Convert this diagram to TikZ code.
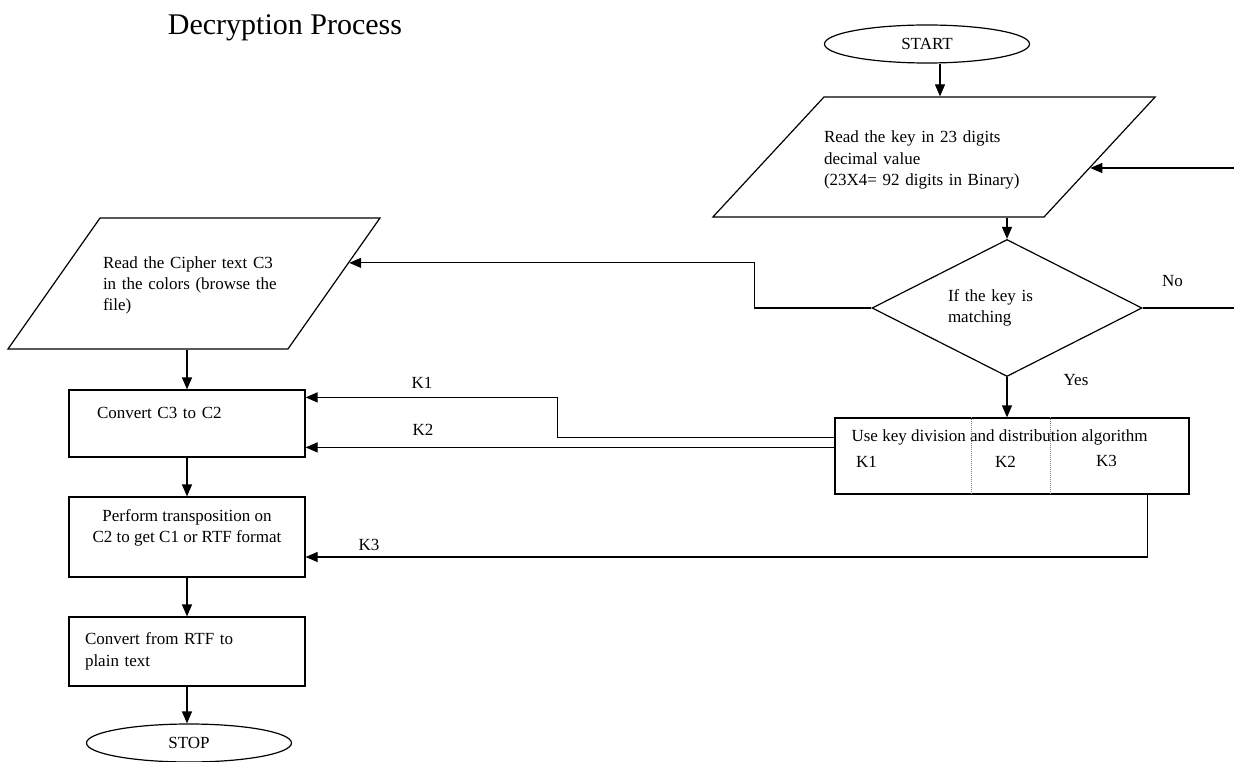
\documentclass[tikz,border=0pt]{standalone}
\usepackage{fontspec}
\setmainfont{Liberation Serif}
\usetikzlibrary{shapes.geometric,arrows.meta,calc}

\tikzset{
  txt/.style={font=\fontsize{17}{21.5}\selectfont, inner sep=0pt},
  titletxt/.style={font=\fontsize{30}{34}\selectfont, inner sep=0pt},
  line/.style={line width=1.2pt},
  arr/.style={line, -{Triangle[length=12pt,width=10pt]}},
  terminal/.style={txt, draw, line, ellipse, minimum width=205pt, minimum height=38pt},
  iobox/.style={txt, draw, line, trapezium, trapezium stretches body, align=left},
  decision/.style={txt, draw, line, diamond, aspect=1.97, minimum width=270pt, minimum height=137pt, text width=118pt, align=left},
  procbox/.style={txt, draw, line, rectangle, minimum width=236pt, align=left}
}

\begin{document}
\begin{tikzpicture}[x=1pt,y=-1pt]
\useasboundingbox (0,0) rectangle (1234,762);
\node[titletxt] (title) at (285,28) {Decryption Process};

% right column
\node[terminal] (start) at (927,44) {START};
\node[iobox, trapezium left angle=47.2, trapezium right angle=132.8,
      minimum width=442pt, text height=46pt, text depth=74pt, text width=220pt] (keyin) at (934,157)
      {Read the key in 23 digits\\ decimal value\\ (23X4= 92 digits in Binary)};
\node[decision] (match) at (1007,308) {If the key is\\ matching};
\node[procbox, minimum width=354pt, minimum height=76pt] (keydiv) at (1012,456) {};
\node[txt, anchor=west] (usekey) at ([xshift=17pt,yshift=-20pt]keydiv.north west) {Use key division and distribution algorithm};
\node[txt] (kone) at ([xshift=32pt,yshift=-44pt]keydiv.north west) {K1};
\node[txt] (ktwo) at ([xshift=171pt,yshift=-44pt]keydiv.north west) {K2};
\node[txt] (kthree) at ([xshift=272pt,yshift=-44pt]keydiv.north west) {K3};
\draw[densely dotted, gray, line width=1pt] ([xshift=137pt]keydiv.north west) -- ([xshift=137pt]keydiv.south west);
\draw[densely dotted, gray, line width=1pt] ([xshift=216pt]keydiv.north west) -- ([xshift=216pt]keydiv.south west);

% left column
\node[iobox, trapezium left angle=54.9, trapezium right angle=125.1,
      minimum width=372pt, text height=50pt, text depth=81pt, text width=182pt] (ciphin) at (194,283.5)
      {Read the Cipher text C3\\ in the colors (browse the\\ file)};
\node[procbox, minimum height=67pt, text width=180pt] (conv) at (187,423.5) {Convert C3 to C2\\ \mbox{}};
\node[procbox, minimum height=80pt, align=center] (perf) at (187,537) {Perform transposition on\\ C2 to get C1 or RTF format\\ \mbox{}};
\node[procbox, minimum height=69pt, text width=204pt] (rtf) at (187,651.5) {Convert from RTF to\\ plain text};
\node[terminal] (stop) at (189,743) {STOP};

% labels
\node[txt] (lblno) at ([xshift=30pt,yshift=27pt]match.east) {No};
\node[txt] (lblyes) at ([xshift=69pt,yshift=-3pt]match.south) {Yes};
\node[txt] (lblkone) at (422,383) {K1};
\node[txt] (lblktwo) at (423,430) {K2};
\node[txt] (lblkthree) at (369,545) {K3};

% connectors
\coordinate (startout) at ([xshift=13pt]start.south);
\draw[arr] (startout) -- (startout |- keyin.north);
\draw[arr] (match.north |- keyin.south) -- (match.north);
\draw[arr] (match.south) -- (match.south |- keydiv.north);
\coordinate (noout) at (1234,308);
\draw[line] (match.east) -- (noout);
\coordinate (keyhit) at ($(keyin.top right corner)!0.59!(keyin.bottom right corner)$);
\coordinate (backin) at (1234,168);
\draw[arr] (backin) -- (backin -| keyhit);
\coordinate (ciphit) at ($(ciphin.top right corner)!0.344!(ciphin.bottom right corner)$);
\draw[arr] (match.west) -- ++(-117,0) |- (ciphit);

\coordinate (koneout) at ([yshift=-20pt]keydiv.north west);
\coordinate (ktwoout) at ([yshift=-30pt]keydiv.north west);
\draw[arr] (koneout) -- ++(-277,0) |- ([yshift=-8pt]conv.north east);
\draw[arr] (ktwoout) -- (ktwoout -| conv.east);
\draw[arr] ([xshift=-42pt]keydiv.south east) |- ([yshift=-20pt]perf.east);

\draw[arr] (conv.north |- ciphin.south) -- (conv.north);
\draw[arr] (conv.south) -- (perf.north);
\draw[arr] (perf.south) -- (rtf.north);
\draw[arr] (rtf.south) -- (rtf.south |- stop.north);
\end{tikzpicture}
\end{document}
